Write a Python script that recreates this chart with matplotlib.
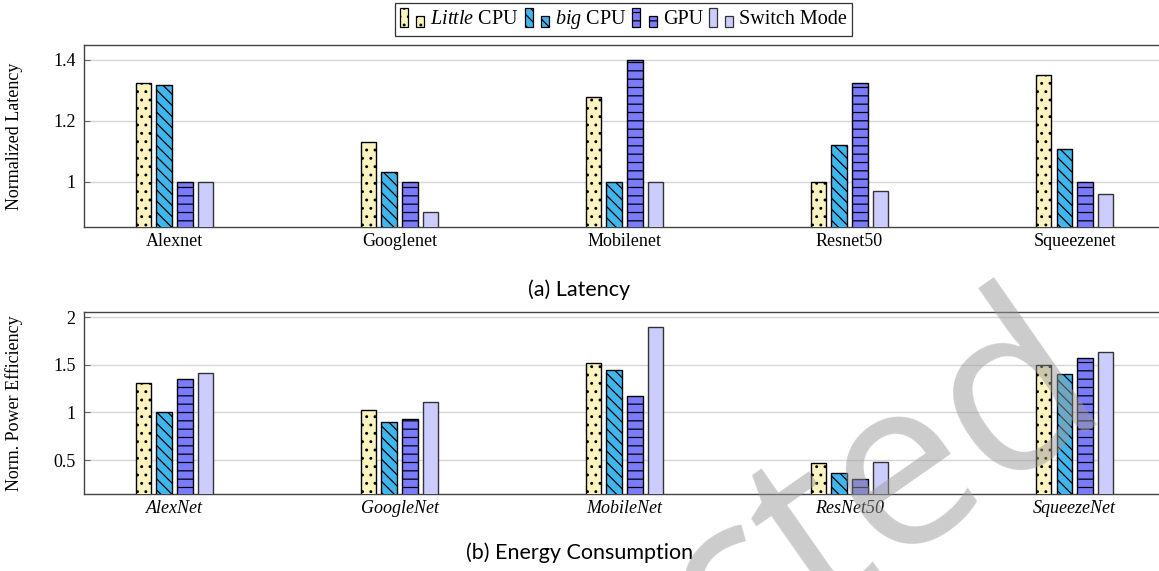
import numpy as np
import matplotlib
matplotlib.use("Agg")
import matplotlib.pyplot as plt
from matplotlib.patches import Rectangle, Patch
from matplotlib.legend_handler import HandlerBase

# ---------------- data ----------------
series = ["Little CPU", "big CPU", "GPU", "Switch Mode"]
legend_labels = [r"$\mathit{Little}$ CPU", r"$\mathit{big}$ CPU", "GPU", "Switch Mode"]

latency_nets = ["Alexnet", "Googlenet", "Mobilenet", "Resnet50", "Squeezenet"]
latency = {
    "Little CPU":  [1.325, 1.130, 1.279, 1.000, 1.350],
    "big CPU":     [1.319, 1.032, 1.000, 1.121, 1.106],
    "GPU":         [1.000, 1.000, 1.400, 1.323, 1.000],
    "Switch Mode": [1.000, 0.900, 1.000, 0.970, 0.958],
}

energy_nets = ["AlexNet", "GoogleNet", "MobileNet", "ResNet50", "SqueezeNet"]
efficiency = {
    "Little CPU":  [1.31, 1.03, 1.52, 0.47, 1.50],
    "big CPU":     [1.00, 0.895, 1.448, 0.364, 1.405],
    "GPU":         [1.353, 0.927, 1.175, 0.301, 1.573],
    "Switch Mode": [1.41, 1.112, 1.898, 0.48, 1.632],
}

# ---------------- styles ----------------
fills = {"Little CPU": "#fbf4bf", "big CPU": "#3fb6ee", "GPU": "#7b7bfd", "Switch Mode": "#ccccff"}
hatches = {"Little CPU": "..", "big CPU": "\\\\\\", "GPU": "--", "Switch Mode": None}
edges = {"Little CPU": "black", "big CPU": "black", "GPU": "black", "Switch Mode": "#333333"}

plt.rcParams["font.family"] = ["Liberation Serif", "DejaVu Serif"]
plt.rcParams["mathtext.fontset"] = "custom"
plt.rcParams["mathtext.rm"] = "Liberation Serif"
plt.rcParams["mathtext.it"] = "Liberation Serif:italic"
plt.rcParams["hatch.linewidth"] = 0.9

fig = plt.figure(figsize=(11.59, 5.71), dpi=100)
ax1 = fig.add_axes([0.0725, 0.6019, 0.9327, 0.3198])
ax2 = fig.add_axes([0.0725, 0.1343, 0.9327, 0.3187])

bar_w = 0.069
step = 0.0915
fs = 13


def draw_bars(ax, data, names, italic):
    x = np.arange(len(names))
    for i, s in enumerate(series):
        ax.bar(x + (i - 1.5) * step, data[s], width=bar_w, color=fills[s],
               edgecolor=edges[s], hatch=hatches[s], linewidth=1.0, zorder=3)
    ax.set_xticks(x)
    ax.set_xticklabels(names, fontsize=fs, fontstyle="italic" if italic else "normal")
    ax.set_xlim(-0.402, 4.402)
    ax.grid(axis="y", color="#d6d6d6", linewidth=1.0, zorder=0)
    ax.tick_params(axis="x", length=0, pad=4)
    ax.tick_params(axis="y", direction="in", length=4, color="#666666",
                   labelsize=fs, left=True, right=True, pad=6)
    for sp in ax.spines.values():
        sp.set_color("#444444")
        sp.set_linewidth(1.0)


draw_bars(ax1, latency, latency_nets, False)
ax1.set_ylim(0.85, 1.45)
ax1.set_yticks([1.0, 1.2, 1.4])
ax1.set_yticklabels(["1", "1.2", "1.4"])
ax1.set_ylabel("Normalized Latency", fontsize=fs)

draw_bars(ax2, efficiency, energy_nets, True)
ax2.set_ylim(0.14, 2.05)
ax2.set_yticks([0.5, 1.0, 1.5, 2.0])
ax2.set_yticklabels(["0.5", "1", "1.5", "2"])
ax2.set_ylabel("Norm. Power Efficiency", fontsize=fs)

ax1.yaxis.set_label_coords(-0.056, 0.5)
ax2.yaxis.set_label_coords(-0.056, 0.5)

# sub captions
fig.text(0.5, 1 - 290 / 571, "(a) Latency", ha="center", va="center",
         fontsize=15.5, family=["Lato", "DejaVu Sans"])
fig.text(0.5, 1 - 553 / 571, "(b) Energy Consumption", ha="center", va="center",
         fontsize=15.5, family=["Lato", "DejaVu Sans"])


# legend image: a tall bar next to a short one
class TwoBarHandler(HandlerBase):
    def create_artists(self, legend, orig_handle, xdescent, ydescent, width, height, fontsize, trans):
        bw = width * 0.33
        kw = dict(facecolor=orig_handle.get_facecolor(), edgecolor=orig_handle.get_edgecolor(),
                  hatch=orig_handle.get_hatch(), linewidth=0.9, transform=trans)
        tall = Rectangle((-xdescent, -ydescent - 0.2 * height), bw, height * 1.35, **kw)
        short = Rectangle((-xdescent + width - bw, -ydescent - 0.2 * height), bw, height * 0.8, **kw)
        return [tall, short]


handles = [Patch(facecolor=fills[s], edgecolor=edges[s], hatch=hatches[s]) for s in series]
leg = fig.legend(handles, legend_labels, loc="center", bbox_to_anchor=(0.538, 1 - 19.5 / 571),
                 ncol=4, fontsize=14.5, frameon=True, fancybox=False, edgecolor="black",
                 handler_map={Patch: TwoBarHandler()}, handlelength=1.2, handletextpad=0.3,
                 columnspacing=0.3, borderpad=0.25)
leg.get_frame().set_linewidth(0.9)

# watermark
fig.text(1110 / 1159, 1 - 400 / 571, "Redacted", ha="right", va="baseline",
         rotation=35, rotation_mode="anchor", fontsize=170, color="#9a9a9a", alpha=0.5,
         family=["Open Sans", "DejaVu Sans"], zorder=10)

fig.savefig("out.png", dpi=100)
